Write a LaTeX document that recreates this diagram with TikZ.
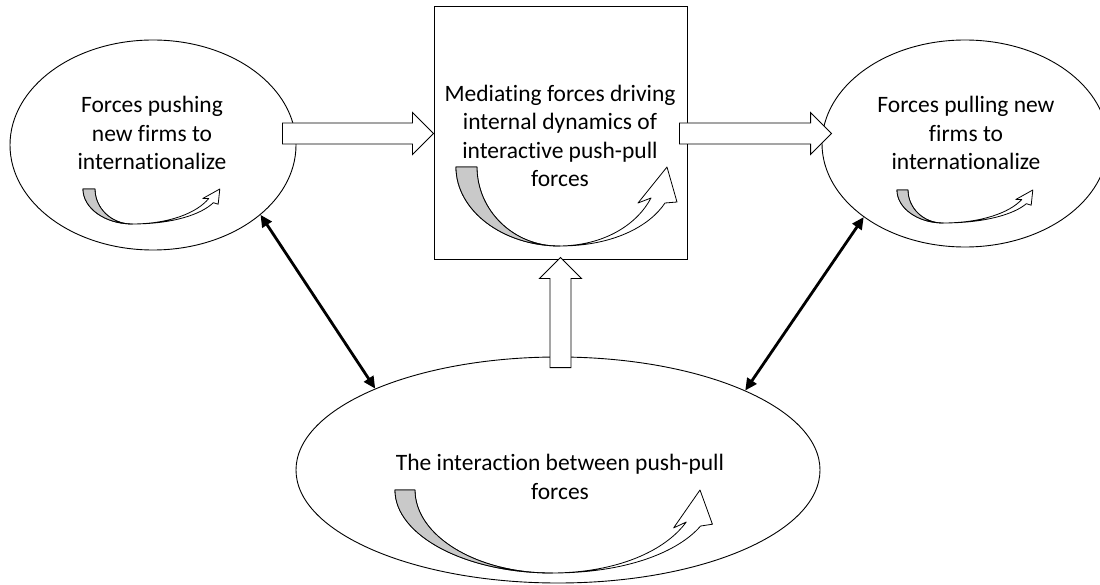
\documentclass[tikz,border=0pt]{standalone}
\usepackage{fontspec}
\setmainfont{Carlito}[Ligatures=NoCommon]
\usetikzlibrary{shapes.geometric,arrows.meta,calc}

% Hollow block arrow pointing right: #1 tail point, #2 tip (same height)
\newcommand\blockright[2]{%
  \draw[blockarrow] ($(#1)+(0,-10.5)$) -- ($(#2)+(-21,-10.5)$) -- ($(#2)+(-21,-21)$)
    -- (#2) -- ($(#2)+(-21,21)$) -- ($(#2)+(-21,10.5)$) -- ($(#1)+(0,10.5)$) -- cycle;}
% Hollow block arrow pointing up: #1 tail point, #2 tip (same column)
\newcommand\blockup[2]{%
  \draw[blockarrow] ($(#1)+(-10.5,0)$) -- ($(#2)+(-10.5,21)$) -- ($(#2)+(-21,21)$)
    -- (#2) -- ($(#2)+(21,21)$) -- ($(#2)+(10.5,21)$) -- ($(#1)+(10.5,0)$) -- cycle;}

% Curved "U-turn" arrow: #1,#2 top-left of tail, #3 width, #4 depth,
% #5 tail width, #6 head scale, #7 position of the lowest point (fraction of width),
% #8 clockwise turn of the head (degrees)
\newcommand\bendarrow[8]{%
 \begin{scope}[shift={(#1,#2)}]
  \pgfmathsetmacro\baW{#3}
  \pgfmathsetmacro\baH{#4}
  \pgfmathsetmacro\baT{#5}
  \pgfmathsetmacro\baS{#6}
  \pgfmathsetmacro\baBx{#7*#3}
  \pgfmathsetmacro\baBi{\baBx-2*\baS}
  \pgfmathsetmacro\baC{cos(#8)}
  \pgfmathsetmacro\baN{sin(#8)}
  % head points, turned about the tip
  \pgfmathsetmacro\baTx{\baW-10*\baS}
  \pgfmathsetmacro\baRx{\baTx+\baS*(10*\baC-35*\baN)}
  \pgfmathsetmacro\baRy{\baS*(10*\baN+35*\baC)}
  \pgfmathsetmacro\baLx{\baTx+\baS*(-29*\baC-36*\baN)}
  \pgfmathsetmacro\baLy{\baS*(-29*\baN+36*\baC)}
  \pgfmathsetmacro\baOx{\baTx+\baS*(-2*\baC-36*\baN)}
  \pgfmathsetmacro\baOy{\baS*(-2*\baN+36*\baC)}
  \pgfmathsetmacro\baIx{\baTx+\baS*(-16*\baC-31*\baN)}
  \pgfmathsetmacro\baIy{\baS*(-16*\baN+31*\baC)}
  % control points of the arcs
  \pgfmathsetmacro\baCa{\baBx+0.5*(\baOx-\baBx)}
  \pgfmathsetmacro\baCbx{\baOx-0.15*(\baOx-\baBx)}
  \pgfmathsetmacro\baCby{\baOy+0.55*(\baH-\baOy)}
  \pgfmathsetmacro\baDax{\baIx-0.15*(\baIx-\baBi)}
  \pgfmathsetmacro\baDay{\baIy+0.55*(\baH-\baIy)}
  \pgfmathsetmacro\baDb{\baBi+0.5*(\baIx-\baBi)}
  \pgfmathsetmacro\baEi{\baT+0.45*(\baBi-\baT)}
  \pgfmathsetmacro\baEo{0.45*\baBx}
  % whole outline, white
  \draw[cafill] (0,0) .. controls (0,0.55*\baH) and (\baEo,\baH) .. (\baBx,\baH)
     .. controls (\baCa,\baH) and (\baCbx,\baCby) .. (\baOx,\baOy)
     -- (\baRx,\baRy) -- (\baTx,0) -- (\baLx,\baLy) -- (\baIx,\baIy)
     .. controls (\baDax,\baDay) and (\baDb,\baH) .. (\baBi,\baH)
     .. controls (\baEi,\baH) and (\baT,0.55*\baH) .. (\baT,0) -- cycle;
  % shaded underside of the tail
  \draw[cashade] (0,0) .. controls (0,0.55*\baH) and (\baEo,\baH) .. (\baBx,\baH)
     -- (\baBi,\baH) .. controls (\baEi,\baH) and (\baT,0.55*\baH) .. (\baT,0) -- cycle;
 \end{scope}}

\begin{document}
\begin{tikzpicture}[x=1pt,y=-1pt,
  ell/.style={draw, ellipse, line width=0.9pt, inner sep=0pt, fill=white},
  stage/.style={draw, line width=1pt, fill=white, minimum width=253pt, minimum height=253pt,
    inner sep=0pt},
  lbl/.style={align=center, inner sep=0pt, font=\fontsize{23.5}{28.3}\selectfont},
  blockarrow/.style={draw, fill=white, line width=0.9pt, line join=miter},
  duo/.style={line width=2.8pt, <->, >={Triangle[length=12pt,width=11pt]}},
  cafill/.style={draw, fill=white, line width=0.8pt, line join=round},
  cashade/.style={draw, fill=gray!42, line width=0.8pt, line join=round}]

\useasboundingbox (0,0) rectangle (1100,585);
\clip (0,0) rectangle (1100,585);
\fill[white] (0,0) rectangle (1100,585);

% the four components
\node[ell, minimum width=286pt, minimum height=210pt] (push) at (153,145) {};
\node[ell, minimum width=286pt, minimum height=207pt] (pull) at (965,143.5) {};
\node[ell, minimum width=524pt, minimum height=226pt] (inter) at (558,470) {};
\node[stage] (mediate) at (560.5,133.5) {};

\node[lbl] (pushtxt) at (152,133) {Forces pushing\\new firms to\\internationalize};
\node[lbl] (pulltxt) at (966,133) {Forces pulling new\\firms to\\internationalize};
\node[lbl] (medtxt) at (560,136)
  {Mediating forces driving\\internal dynamics of\\interactive push-pull\\forces};
\node[lbl] (intertxt) at (560,477) {The interaction between push-pull\\forces};

% hollow block arrows between the components
\coordinate (a1) at ([xshift=-14pt]push.east |- mediate.west);
\blockright{a1}{mediate.west}
\coordinate (a2s) at ([xshift=-8pt]mediate.east);
\coordinate (a2t) at ([xshift=10pt]pull.west |- mediate.east);
\blockright{a2s}{a2t}
\coordinate (a3s) at ([yshift=-11pt]mediate.south |- inter.north);
\coordinate (a3t) at ([yshift=3pt]mediate.south);
\blockup{a3s}{a3t}

% two-way links to the interaction
\draw[duo] (push.-33.6) -- (inter.156.4);
\draw[duo] (pull.-144.7) -- (inter.23.5);

% curved arrows inside each component
\bendarrow{83}{189}{141}{35}{12}{0.42}{0.35}{22}
\bendarrow{897}{190}{140}{33}{11}{0.42}{0.33}{22}
\bendarrow{456}{167}{221}{79}{21}{1}{0.47}{0}
\bendarrow{395}{490}{315}{83}{20}{1}{0.5}{-4}
\end{tikzpicture}
\end{document}
